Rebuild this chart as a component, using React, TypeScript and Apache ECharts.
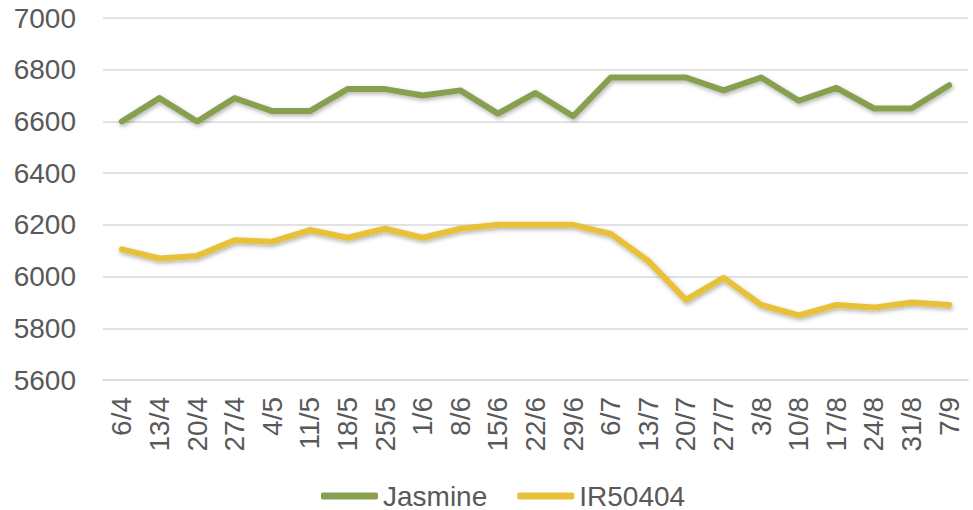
import React, { useEffect, useRef } from "react";
import * as echarts from "echarts";

const categories = ["6/4", "13/4", "20/4", "27/4", "4/5", "11/5", "18/5", "25/5", "1/6", "8/6", "15/6", "22/6", "29/6", "6/7", "13/7", "20/7", "27/7", "3/8", "10/8", "17/8", "24/8", "31/8", "7/9"];
const jasmine = [6600, 6690, 6600, 6690, 6640, 6640, 6725, 6725, 6700, 6720, 6630, 6710, 6620, 6770, 6770, 6770, 6720, 6770, 6680, 6730, 6650, 6650, 6740];
const ir50404 = [6105, 6070, 6080, 6140, 6135, 6180, 6150, 6185, 6150, 6185, 6200, 6200, 6200, 6165, 6060, 5910, 5995, 5890, 5850, 5890, 5880, 5900, 5890];
const yTicks = { min: 5600, max: 7000, interval: 200 };

const FONT = "'Liberation Sans', Arial, sans-serif";
const TEXT = "#595959";
const GREEN = "#86A050";
const YELLOW = "#E8C13A";

export default function App() {
  const ref = useRef<HTMLDivElement>(null);
  useEffect(() => {
    if (!ref.current) return;
    const chart = echarts.init(ref.current, undefined, { renderer: "svg" });
    const lineSeries = (name: string, data: number[], color: string) => ({
      name,
      type: "line",
      data,
      showSymbol: false,
      symbol: "none",
      color,
      lineStyle: {
        color,
        width: 6,
        cap: "round",
        join: "round",
        shadowColor: "rgba(0,0,0,0.3)",
        shadowBlur: 4,
        shadowOffsetX: 1,
        shadowOffsetY: 2,
      },
      itemStyle: { color },
    });
    chart.setOption({
      animation: false,
      backgroundColor: "#ffffff",
      textStyle: { fontFamily: FONT },
      grid: { left: 103, right: 5, top: 18, bottom: 130, containLabel: false },
      legend: {
        left: 316,
        top: 477,
        itemWidth: 57,
        itemHeight: 7,
        itemGap: 30,
        icon: "roundRect",
        textStyle: { fontSize: 28, lineHeight: 28, color: TEXT, fontFamily: FONT },
        data: ["Jasmine", "IR50404"],
      },
      xAxis: {
        type: "category",
        data: categories,
        boundaryGap: true,
        axisLine: { show: true, lineStyle: { color: "#D9D9D9", width: 1.5 } },
        axisTick: { show: false },
        axisLabel: {
          interval: 0,
          rotate: 90,
          margin: 17,
          fontSize: 28,
          color: TEXT,
          fontFamily: FONT,
        },
      },
      yAxis: {
        type: "value",
        min: yTicks.min,
        max: yTicks.max,
        interval: yTicks.interval,
        axisLine: { show: false },
        axisTick: { show: false },
        splitLine: { lineStyle: { color: "#D9D9D9", width: 1.5 } },
        axisLabel: {
          fontSize: 28,
          color: TEXT,
          margin: 27,
          fontFamily: FONT,
          formatter: (v: number) => String(v),
        },
      },
      series: [lineSeries("Jasmine", jasmine, GREEN), lineSeries("IR50404", ir50404, YELLOW)],
    });
    return () => chart.dispose();
  }, []);
  return <div ref={ref} style={{ width: 973, height: 510, position: "absolute", left: 0, top: 0 }} />;
}
